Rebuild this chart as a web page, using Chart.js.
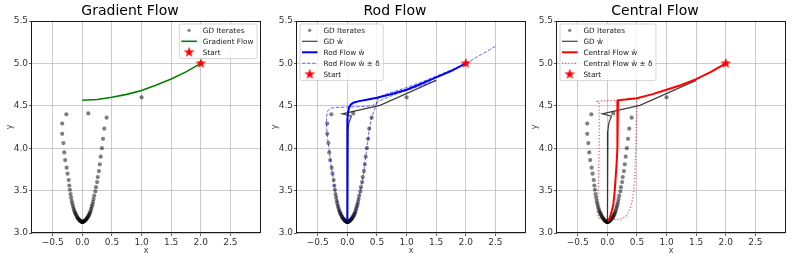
<!DOCTYPE html>
<html>
<head>
<meta charset="utf-8">
<script src="https://cdn.jsdelivr.net/npm/chart.js@4.4.1/dist/chart.umd.min.js"></script>
<style>
  html, body { margin: 0; padding: 0; background: #fff; }
  #wrap { position: relative; width: 793px; height: 261px; overflow: hidden; }
  .panel { position: absolute; top: 0; width: 268px; height: 261px; }
</style>
</head>
<body>
<div id="wrap">
  <div class="panel" style="left:0px"><canvas id="gradChart" width="268" height="261"></canvas></div>
  <div class="panel" style="left:265px"><canvas id="rodChart" width="268" height="261"></canvas></div>
  <div class="panel" style="left:525px"><canvas id="centralChart" width="268" height="261"></canvas></div>
</div>
<script>
// axis ticks
const xTickValues = [-0.5, 0.0, 0.5, 1.0, 1.5, 2.0, 2.5];
const xTickLabels = ['\u22120.5', '0.0', '0.5', '1.0', '1.5', '2.0', '2.5'];
const yTickValues = [3.0, 3.5, 4.0, 4.5, 5.0, 5.5];
const yTickLabels = ['3.0', '3.5', '4.0', '4.5', '5.0', '5.5'];

// GD iterates (same in all three panels)
const gdX = [2.0, 1.0, 0.1, -0.27, 0.41, -0.34, 0.37, -0.34, 0.35, -0.32, 0.33, -0.305, 0.31, -0.29, 0.295,
  -0.265, 0.28, -0.25, 0.26, -0.23, 0.25, -0.22, 0.23, -0.21, 0.22, -0.20, 0.20, -0.19, 0.19, -0.18, 0.18,
  -0.17, 0.17, -0.16, 0.16, -0.15, 0.15, -0.14, 0.14, -0.13, 0.13, -0.12, 0.12, -0.11, 0.11, -0.10, 0.10,
  -0.09, 0.09, -0.08, 0.08, -0.07, 0.07, -0.06, 0.06, -0.05, 0.05, -0.04, 0.04, -0.03, 0.03, -0.02, 0.02,
  -0.01, 0.01, 0.0, -0.005, 0.005, 0.0];
const gdY = [5.0, 4.6, 4.41, 4.40, 4.36, 4.29, 4.23, 4.17, 4.11, 4.06, 4.00, 3.95, 3.90, 3.86, 3.81,
  3.77, 3.73, 3.70, 3.66, 3.625, 3.60, 3.56, 3.54, 3.51, 3.49, 3.46, 3.44, 3.42, 3.40, 3.38, 3.365,
  3.35, 3.335, 3.32, 3.31, 3.295, 3.285, 3.27, 3.26, 3.25, 3.24, 3.235, 3.225, 3.22, 3.21, 3.205, 3.197,
  3.19, 3.185, 3.18, 3.175, 3.17, 3.165, 3.16, 3.157, 3.152, 3.15, 3.145, 3.143, 3.14, 3.138, 3.136, 3.135,
  3.133, 3.132, 3.13, 3.131, 3.131, 3.129];

// averaged GD path (panels 2 and 3)
const gdAvgX = [1.5, 0.55, -0.085, 0.07, 0.03, 0.018, 0.01, 0.006, 0.004, 0.002, 0.0, 0.0];
const gdAvgY = [4.8, 4.505, 4.405, 4.378, 4.31, 4.26, 4.2, 4.1, 3.9, 3.6, 3.3, 3.13];

// gradient flow
const gradFlowX = [2.0, 1.75, 1.5, 1.25, 1.0, 0.75, 0.5, 0.25, 0.0];
const gradFlowY = [5.0, 4.90, 4.815, 4.745, 4.68, 4.635, 4.60, 4.575, 4.565];

// rod flow and its +/- delta envelope
const rodX = [2.0, 1.75, 1.5, 1.25, 1.0, 0.75, 0.5, 0.35, 0.2, 0.11, 0.06, 0.03, 0.012, 0.004, 0.0, 0.0, 0.0];
const rodY = [5.0, 4.91, 4.835, 4.76, 4.69, 4.64, 4.595, 4.575, 4.555, 4.54, 4.515, 4.48, 4.43, 4.35, 4.2, 3.6, 3.13];
const rodPlusX = [2.5, 2.25, 2.0, 1.75, 1.5, 1.25, 1.0, 0.75, 0.6, 0.52, 0.48, 0.44, 0.41, 0.385, 0.365, 0.35,
  0.33, 0.31, 0.293, 0.272, 0.25, 0.22, 0.19, 0.155, 0.105, 0.05, 0.0];
const rodPlusY = [5.2, 5.1, 5.0, 4.92, 4.85, 4.78, 4.715, 4.66, 4.625, 4.59, 4.5, 4.42, 4.36, 4.28, 4.2, 4.1,
  4.0, 3.9, 3.8, 3.7, 3.6, 3.5, 3.4, 3.3, 3.2, 3.15, 3.13];
const rodMinusX = [1.5, 1.25, 1.0, 0.75, 0.55, 0.42, 0.2, 0.0, -0.2, -0.29, -0.33, -0.35, -0.355, -0.345, -0.33,
  -0.31, -0.295, -0.275, -0.25, -0.23, -0.205, -0.18, -0.15, -0.095, -0.045, 0.0];
const rodMinusY = [4.8, 4.74, 4.68, 4.62, 4.56, 4.50, 4.49, 4.485, 4.48, 4.47, 4.44, 4.38, 4.3, 4.2, 4.1,
  4.0, 3.9, 3.8, 3.7, 3.6, 3.5, 3.4, 3.3, 3.2, 3.15, 3.13];

// central flow and its +/- delta envelope
const cenX = [2.0, 1.75, 1.5, 1.25, 1.0, 0.75, 0.5, 0.3, 0.18, 0.175, 0.165, 0.155, 0.14, 0.125, 0.1, 0.06, 0.03, 0.01];
const cenY = [5.0, 4.9, 4.815, 4.745, 4.69, 4.635, 4.59, 4.573, 4.565, 4.3, 4.0, 3.8, 3.65, 3.5, 3.33, 3.22, 3.16, 3.135];
const cenPlusX = [0.5, 0.49, 0.48, 0.465, 0.445, 0.42, 0.38, 0.32, 0.25, 0.15, 0.05];
const cenPlusY = [4.59, 4.3, 4.0, 3.7, 3.5, 3.38, 3.28, 3.2, 3.168, 3.16, 3.16];
const cenMinusX = [0.18, -0.19, -0.14, -0.135, -0.14, -0.15, -0.16, -0.17, -0.15, -0.1, 0.0, 0.05];
const cenMinusY = [4.565, 4.555, 4.54, 4.2, 3.9, 3.6, 3.4, 3.25, 3.18, 3.163, 3.16, 3.16];

const startX = [2.0];
const startY = [5.0];

const FONT = '"DejaVu Sans", sans-serif';

function pts(xs, ys) {
    return xs.map((x, i) => ({ x: x, y: ys[i] }));
}

// filled star marker like matplotlib '*'
function makeStar(R) {
    const c = document.createElement('canvas');
    const size = Math.ceil(2 * R + 2);
    c.width = size;
    c.height = size;
    const g = c.getContext('2d');
    const cx = size / 2, cy = size / 2;
    g.beginPath();
    for (let i = 0; i < 10; i++) {
        const r = i % 2 === 0 ? R : R * 0.382;
        const a = -Math.PI / 2 + i * Math.PI / 5;
        const px = cx + r * Math.cos(a), py = cy + r * Math.sin(a);
        if (i === 0) g.moveTo(px, py); else g.lineTo(px, py);
    }
    g.closePath();
    g.fillStyle = '#ff0000';
    g.fill();
    return c;
}
const starImg = makeStar(5.7);

// frame + legend box drawn inside the axes
const boxLegend = {
    id: 'boxLegend',
    afterDraw(chart, args, opts) {
        const ctx = chart.ctx;
        const a = chart.chartArea;
        ctx.save();
        ctx.strokeStyle = '#1a1a1a';
        ctx.lineWidth = 1;
        ctx.strokeRect(Math.round(a.left) - 0.5, Math.round(a.top) + 0.5,
            Math.round(a.right - a.left) + 1, Math.round(a.bottom - a.top) - 1);

        const items = chart.data.datasets.filter(d => d.legendLabel);
        ctx.font = '7.3px ' + FONT;
        const textW = Math.max(...items.map(d => ctx.measureText(d.legendLabel).width));
        const w = 23.4 + textW + 3.5;
        const h = items.length * 11 + 1.6;
        const x0 = opts.side === 'right' ? a.right - 3 - w : a.left + 3;
        const y0 = a.top + 3;
        ctx.beginPath();
        ctx.roundRect(x0, y0, w, h, 2);
        ctx.fillStyle = 'rgba(255,255,255,0.8)';
        ctx.fill();
        ctx.strokeStyle = '#cccccc';
        ctx.lineWidth = 0.8;
        ctx.stroke();

        items.forEach((d, i) => {
            const cy = y0 + 6.3 + 11 * i;
            const mx = x0 + 9.7;
            if (d.legendKind === 'dot') {
                ctx.beginPath();
                ctx.arc(mx, cy, 1.6, 0, Math.PI * 2);
                ctx.fillStyle = d.pointBackgroundColor;
                ctx.fill();
            } else if (d.legendKind === 'star') {
                ctx.drawImage(starImg, mx - starImg.width / 2, cy - starImg.height / 2);
            } else {
                ctx.beginPath();
                ctx.setLineDash(d.borderDash || []);
                ctx.moveTo(x0 + 2, cy);
                ctx.lineTo(x0 + 17.5, cy);
                ctx.strokeStyle = d.borderColor;
                ctx.lineWidth = d.borderWidth;
                ctx.stroke();
                ctx.setLineDash([]);
            }
            ctx.fillStyle = '#1a1a1a';
            ctx.textBaseline = 'middle';
            ctx.textAlign = 'left';
            ctx.fillText(d.legendLabel, x0 + 23.4, cy + 0.5);
        });
        ctx.restore();
    }
};

function lineSet(label, xs, ys, color, width, dash, order) {
    return {
        legendLabel: label, legendKind: 'line',
        data: pts(xs, ys), showLine: true, pointRadius: 0, fill: false, tension: 0,
        borderColor: color, borderWidth: width, borderDash: dash, order: order
    };
}

function baseSets() {
    return [
        {
            legendLabel: 'GD Iterates', legendKind: 'dot', data: pts(gdX, gdY),
            pointRadius: 2.1, pointBorderWidth: 0,
            pointBackgroundColor: 'rgba(0,0,0,0.5)', borderColor: 'rgba(0,0,0,0)', order: 20
        }
    ];
}

function startSet() {
    return {
        legendLabel: 'Start', legendKind: 'star', data: pts(startX, startY),
        pointStyle: starImg, pointRadius: 6, order: 0
    };
}

function makeOptions(title, side) {
    const tickFont = { family: FONT, size: 9 };
    return {
        responsive: false,
        animation: false,
        layout: { padding: { left: 0, right: 8, top: 0, bottom: 0 } },
        plugins: {
            legend: { display: false },
            tooltip: { enabled: false },
            title: {
                display: true, text: title, color: '#000',
                font: { family: FONT, size: 14, weight: 'normal', lineHeight: 1.2 },
                padding: { top: 3, bottom: 1.2 }
            },
            boxLegend: { side: side }
        },
        scales: {
            x: {
                type: 'linear', min: -0.85, max: 3.0,
                afterFit: s => { s.height = 28; },
                afterBuildTicks: s => { s.ticks = xTickValues.map(v => ({ value: v })); },
                ticks: {
                    autoSkip: false, maxRotation: 0, padding: 1, color: '#333', font: tickFont,
                    callback: (v, i) => xTickLabels[i]
                },
                grid: { color: 'rgba(176,176,176,0.85)', lineWidth: 0.8, tickLength: 3, tickColor: '#333', tickWidth: 0.8 },
                border: { display: false },
                title: { display: true, text: 'x', color: '#444', font: { family: FONT, size: 8 }, padding: { top: 0, bottom: 5 } }
            },
            y: {
                type: 'linear', min: 3.0, max: 5.5,
                afterFit: s => { s.width = 32; },
                afterBuildTicks: s => { s.ticks = yTickValues.map(v => ({ value: v })); },
                ticks: {
                    autoSkip: false, padding: 1, color: '#333', font: tickFont,
                    callback: (v, i) => yTickLabels[i]
                },
                grid: { color: 'rgba(176,176,176,0.85)', lineWidth: 0.8, tickLength: 3, tickColor: '#333', tickWidth: 0.8 },
                border: { display: false },
                title: { display: true, text: 'y', color: '#444', font: { family: FONT, size: 8 }, padding: { top: 5, bottom: 0 } }
            }
        }
    };
}

Chart.register(boxLegend);

// Gradient Flow
new Chart(document.getElementById('gradChart').getContext('2d'), {
    type: 'scatter',
    data: {
        datasets: baseSets().concat([
            lineSet('Gradient Flow', gradFlowX, gradFlowY, '#008000', 1.6, [], 5),
            startSet()
        ])
    },
    options: makeOptions('Gradient Flow', 'right')
});

// Rod Flow
const rodMinus = lineSet(null, rodMinusX, rodMinusY, 'rgba(0,0,255,0.6)', 1, [3.5, 1.6], 3);
new Chart(document.getElementById('rodChart').getContext('2d'), {
    type: 'scatter',
    data: {
        datasets: baseSets().concat([
            lineSet('GD \u0175', gdAvgX, gdAvgY, 'rgba(0,0,0,0.75)', 1.2, [], 6),
            lineSet('Rod Flow \u0175', rodX, rodY, '#0000ff', 2, [], 5),
            lineSet('Rod Flow \u0175 \u00b1 \u03b4', rodPlusX, rodPlusY, 'rgba(0,0,255,0.6)', 1, [3.5, 1.6], 4),
            rodMinus,
            startSet()
        ])
    },
    options: makeOptions('Rod Flow', 'left')
});

// Central Flow
const cenMinus = lineSet(null, cenMinusX, cenMinusY, 'rgba(255,0,0,0.7)', 1.2, [1.2, 2], 3);
new Chart(document.getElementById('centralChart').getContext('2d'), {
    type: 'scatter',
    data: {
        datasets: baseSets().concat([
            lineSet('GD \u0175', gdAvgX, gdAvgY, 'rgba(0,0,0,0.75)', 1.2, [], 6),
            lineSet('Central Flow \u0175', cenX, cenY, '#ff0000', 2, [], 5),
            lineSet('Central Flow \u0175 \u00b1 \u03b4', cenPlusX, cenPlusY, 'rgba(255,0,0,0.7)', 1.2, [1.2, 2], 4),
            cenMinus,
            startSet()
        ])
    },
    options: makeOptions('Central Flow', 'left')
});
</script>
</body>
</html>
